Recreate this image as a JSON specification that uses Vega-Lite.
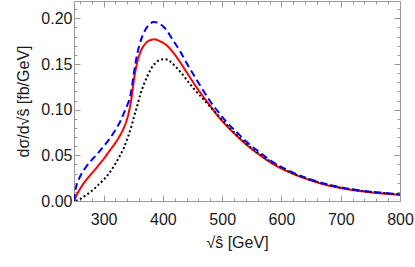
{
  "$schema": "https://vega.github.io/schema/vega-lite/v6.json",
  "width": 326,
  "height": 200,
  "autosize": "none",
  "padding": {"left": 74, "top": 1, "right": 15, "bottom": 66},
  "background": "white",
  "config": {
    "view": {"stroke": null},
    "font": "Liberation Sans",
    "axis": {"labelFont": "Liberation Sans", "titleFont": "Liberation Sans", "labelFontSize": 16, "labelColor": "#1a1a1a", "titleColor": "#1a1a1a", "titleFontWeight": "normal", "titleFontSize": 16, "domainColor": "#999", "tickColor": "#999", "grid": false}
  },
  "data": {"values": [
    {"s": "red", "x": 250, "y": 0}, {"s": "red", "x": 254, "y": 0.006}, {"s": "red", "x": 260, "y": 0.013}, {"s": "red", "x": 266, "y": 0.019}, {"s": "red", "x": 277, "y": 0.028}, {"s": "red", "x": 290, "y": 0.038}, {"s": "red", "x": 300, "y": 0.046}, {"s": "red", "x": 310, "y": 0.055}, {"s": "red", "x": 318, "y": 0.062}, {"s": "red", "x": 326, "y": 0.07}, {"s": "red", "x": 334, "y": 0.08}, {"s": "red", "x": 340, "y": 0.091}, {"s": "red", "x": 345, "y": 0.105}, {"s": "red", "x": 348, "y": 0.117}, {"s": "red", "x": 351, "y": 0.132}, {"s": "red", "x": 356, "y": 0.15}, {"s": "red", "x": 362, "y": 0.163}, {"s": "red", "x": 370, "y": 0.172}, {"s": "red", "x": 378, "y": 0.176}, {"s": "red", "x": 386, "y": 0.177}, {"s": "red", "x": 395, "y": 0.175}, {"s": "red", "x": 407, "y": 0.17}, {"s": "red", "x": 418, "y": 0.162}, {"s": "red", "x": 429, "y": 0.152}, {"s": "red", "x": 440, "y": 0.141}, {"s": "red", "x": 452, "y": 0.129}, {"s": "red", "x": 466, "y": 0.116}, {"s": "red", "x": 480, "y": 0.104}, {"s": "red", "x": 494, "y": 0.092}, {"s": "red", "x": 508, "y": 0.082}, {"s": "red", "x": 525, "y": 0.071}, {"s": "red", "x": 542, "y": 0.061}, {"s": "red", "x": 564, "y": 0.05}, {"s": "red", "x": 587, "y": 0.04}, {"s": "red", "x": 615, "y": 0.031}, {"s": "red", "x": 643, "y": 0.024}, {"s": "red", "x": 670, "y": 0.0185}, {"s": "red", "x": 699, "y": 0.0143}, {"s": "red", "x": 728, "y": 0.0112}, {"s": "red", "x": 756, "y": 0.0091}, {"s": "red", "x": 780, "y": 0.0077}, {"s": "red", "x": 800, "y": 0.0066},
    {"s": "black", "x": 253, "y": 0}, {"s": "black", "x": 260, "y": 0.002}, {"s": "black", "x": 267, "y": 0.005}, {"s": "black", "x": 280, "y": 0.011}, {"s": "black", "x": 290, "y": 0.017}, {"s": "black", "x": 298, "y": 0.022}, {"s": "black", "x": 310, "y": 0.031}, {"s": "black", "x": 319, "y": 0.04}, {"s": "black", "x": 327, "y": 0.049}, {"s": "black", "x": 334, "y": 0.058}, {"s": "black", "x": 341, "y": 0.07}, {"s": "black", "x": 347, "y": 0.082}, {"s": "black", "x": 352, "y": 0.094}, {"s": "black", "x": 357, "y": 0.105}, {"s": "black", "x": 362, "y": 0.117}, {"s": "black", "x": 368, "y": 0.128}, {"s": "black", "x": 374, "y": 0.137}, {"s": "black", "x": 381, "y": 0.146}, {"s": "black", "x": 389, "y": 0.152}, {"s": "black", "x": 397, "y": 0.155}, {"s": "black", "x": 404, "y": 0.1553}, {"s": "black", "x": 412, "y": 0.153}, {"s": "black", "x": 420, "y": 0.148}, {"s": "black", "x": 430, "y": 0.141}, {"s": "black", "x": 441, "y": 0.132}, {"s": "black", "x": 452, "y": 0.123}, {"s": "black", "x": 466, "y": 0.113}, {"s": "black", "x": 480, "y": 0.103}, {"s": "black", "x": 494, "y": 0.093}, {"s": "black", "x": 508, "y": 0.083}, {"s": "black", "x": 525, "y": 0.072}, {"s": "black", "x": 542, "y": 0.062}, {"s": "black", "x": 564, "y": 0.051}, {"s": "black", "x": 587, "y": 0.041}, {"s": "black", "x": 615, "y": 0.0315}, {"s": "black", "x": 643, "y": 0.0245}, {"s": "black", "x": 670, "y": 0.019}, {"s": "black", "x": 699, "y": 0.0148}, {"s": "black", "x": 728, "y": 0.0117}, {"s": "black", "x": 756, "y": 0.0096}, {"s": "black", "x": 780, "y": 0.0082}, {"s": "black", "x": 800, "y": 0.0071},
    {"s": "blue", "x": 250, "y": 0}, {"s": "blue", "x": 253, "y": 0.014}, {"s": "blue", "x": 257, "y": 0.022}, {"s": "blue", "x": 262, "y": 0.029}, {"s": "blue", "x": 270, "y": 0.037}, {"s": "blue", "x": 280, "y": 0.045}, {"s": "blue", "x": 290, "y": 0.052}, {"s": "blue", "x": 300, "y": 0.06}, {"s": "blue", "x": 310, "y": 0.068}, {"s": "blue", "x": 320, "y": 0.078}, {"s": "blue", "x": 328, "y": 0.087}, {"s": "blue", "x": 334, "y": 0.096}, {"s": "blue", "x": 340, "y": 0.105}, {"s": "blue", "x": 345, "y": 0.115}, {"s": "blue", "x": 349, "y": 0.131}, {"s": "blue", "x": 354, "y": 0.152}, {"s": "blue", "x": 360, "y": 0.17}, {"s": "blue", "x": 367, "y": 0.183}, {"s": "blue", "x": 375, "y": 0.192}, {"s": "blue", "x": 385, "y": 0.196}, {"s": "blue", "x": 395, "y": 0.194}, {"s": "blue", "x": 405, "y": 0.188}, {"s": "blue", "x": 416, "y": 0.177}, {"s": "blue", "x": 429, "y": 0.164}, {"s": "blue", "x": 440, "y": 0.151}, {"s": "blue", "x": 452, "y": 0.138}, {"s": "blue", "x": 466, "y": 0.123}, {"s": "blue", "x": 480, "y": 0.109}, {"s": "blue", "x": 494, "y": 0.097}, {"s": "blue", "x": 508, "y": 0.086}, {"s": "blue", "x": 525, "y": 0.075}, {"s": "blue", "x": 539, "y": 0.066}, {"s": "blue", "x": 564, "y": 0.053}, {"s": "blue", "x": 587, "y": 0.042}, {"s": "blue", "x": 615, "y": 0.0325}, {"s": "blue", "x": 643, "y": 0.025}, {"s": "blue", "x": 670, "y": 0.0195}, {"s": "blue", "x": 699, "y": 0.0152}, {"s": "blue", "x": 728, "y": 0.012}, {"s": "blue", "x": 756, "y": 0.0098}, {"s": "blue", "x": 780, "y": 0.0084}, {"s": "blue", "x": 800, "y": 0.0073}
  ]},
  "layer": [
    {
      "mark": {"type": "line", "interpolate": "monotone", "strokeWidth": 2, "clip": true},
      "encoding": {
        "x": {"field": "x", "type": "quantitative", "scale": {"domain": [250, 800], "nice": false, "zero": false},
          "axis": {"orient": "bottom", "title": "√ŝ [GeV]", "values": [260,280,300,320,340,360,380,400,420,440,460,480,500,520,540,560,580,600,620,640,660,680,700,720,740,760,780,800],
            "labelExpr": "datum.value % 100 == 0 ? datum.value : ''", "labelOverlap": false, "labelFlush": false,
            "tickSize": {"condition": {"test": "datum.value % 100 == 0", "value": -6}, "value": -3}, "labelPadding": 16, "titlePadding": 4}},
        "y": {"field": "y", "type": "quantitative", "scale": {"domain": [0, 0.219], "nice": false},
          "axis": {"orient": "left", "title": "dσ/d√ŝ  [fb/GeV]", "values": [0,0.01,0.02,0.03,0.04,0.05,0.06,0.07,0.08,0.09,0.1,0.11,0.12,0.13,0.14,0.15,0.16,0.17,0.18,0.19,0.2,0.21],
            "labelExpr": "abs(datum.value*20 - round(datum.value*20)) < 0.001 ? format(datum.value, '.2f') : ''", "labelOverlap": false, "labelFlush": false,
            "tickSize": {"condition": {"test": "abs(datum.value*20 - round(datum.value*20)) < 0.001", "value": -6}, "value": -3}, "labelPadding": 8, "titlePadding": 9}},
        "color": {"field": "s", "type": "nominal", "scale": {"domain": ["red", "black", "blue"], "range": ["#ff0000", "#000000", "#0000ff"]}, "legend": null},
        "strokeDash": {"field": "s", "type": "nominal", "scale": {"domain": ["red", "black", "blue"], "range": [[1, 0], [2, 2.5], [7, 4]]}, "legend": null},
        "order": {"field": "x", "type": "quantitative"}
      }
    },
    {
      "mark": {"type": "line", "opacity": 0},
      "encoding": {
        "x": {"field": "x", "type": "quantitative", "scale": {"domain": [250, 800], "nice": false, "zero": false},
          "axis": {"orient": "top", "title": null, "labels": false, "values": [260,280,300,320,340,360,380,400,420,440,460,480,500,520,540,560,580,600,620,640,660,680,700,720,740,760,780,800],
            "tickSize": {"condition": {"test": "datum.value % 100 == 0", "value": -6}, "value": -3}}},
        "y": {"field": "y", "type": "quantitative", "scale": {"domain": [0, 0.219], "nice": false},
          "axis": {"orient": "right", "title": null, "labels": false, "values": [0,0.01,0.02,0.03,0.04,0.05,0.06,0.07,0.08,0.09,0.1,0.11,0.12,0.13,0.14,0.15,0.16,0.17,0.18,0.19,0.2,0.21],
            "tickSize": {"condition": {"test": "abs(datum.value*20 - round(datum.value*20)) < 0.001", "value": -6}, "value": -3}}},
        "detail": {"field": "s", "type": "nominal"}
      }
    }
  ],
  "resolve": {"axis": {"x": "independent", "y": "independent"}}
}
